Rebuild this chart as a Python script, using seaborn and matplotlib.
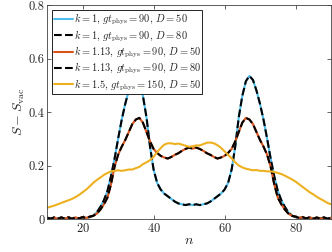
import numpy as np
import matplotlib
matplotlib.use("Agg")
import matplotlib.pyplot as plt
import seaborn as sns

# sitios
n = np.arange(10, 91)

# k = 1, gt = 90, D = 50
k1_d50 = [0.002, 0.002, 0.002, 0.002, 0.002, 0.002, 0.002, 0.002, 0.002, 0.002,
          0.003, 0.004, 0.006, 0.012, 0.025, 0.045, 0.07, 0.105, 0.16, 0.225,
          0.30, 0.37, 0.43, 0.48, 0.52, 0.535, 0.515, 0.46, 0.38, 0.27,
          0.185, 0.135, 0.11, 0.095, 0.085, 0.075, 0.065, 0.058, 0.055, 0.052,
          0.055, 0.052, 0.055, 0.052, 0.055, 0.058, 0.065, 0.075, 0.085, 0.095,
          0.11, 0.135, 0.185, 0.27, 0.38, 0.46, 0.515, 0.535, 0.52, 0.48,
          0.43, 0.37, 0.30, 0.225, 0.16, 0.105, 0.07, 0.045, 0.025, 0.012,
          0.006, 0.004, 0.003, 0.002, 0.002, 0.002, 0.002, 0.002, 0.002, 0.002,
          0.002]

# k = 1, gt = 90, D = 80
k1_d80 = [0.005, 0.0, 0.006, 0.001, 0.006, 0.0, 0.007, 0.001, 0.006, 0.002,
          0.007, 0.003, 0.008, 0.012, 0.025, 0.045, 0.07, 0.105, 0.16, 0.225,
          0.30, 0.37, 0.43, 0.48, 0.52, 0.535, 0.515, 0.46, 0.38, 0.27,
          0.185, 0.135, 0.11, 0.095, 0.085, 0.075, 0.065, 0.058, 0.055, 0.052,
          0.055, 0.052, 0.055, 0.052, 0.055, 0.058, 0.065, 0.075, 0.085, 0.095,
          0.11, 0.135, 0.185, 0.27, 0.38, 0.46, 0.515, 0.535, 0.52, 0.48,
          0.43, 0.37, 0.30, 0.225, 0.16, 0.105, 0.07, 0.045, 0.025, 0.012,
          0.008, 0.003, 0.007, 0.001, 0.006, 0.0, 0.006, 0.001, 0.006, 0.0,
          0.005]

# k = 1.13, gt = 90, D = 50
k113_d50 = [0.004, 0.0, 0.006, 0.0, 0.005, 0.001, 0.006, 0.0, 0.006, 0.002,
            0.007, 0.004, 0.008, 0.012, 0.02, 0.035, 0.055, 0.08, 0.13, 0.195,
            0.24, 0.27, 0.295, 0.325, 0.355, 0.372, 0.378, 0.36, 0.325, 0.29,
            0.262, 0.247, 0.236, 0.23, 0.226, 0.232, 0.24, 0.246, 0.255, 0.262,
            0.267, 0.263, 0.267, 0.262, 0.255, 0.246, 0.24, 0.232, 0.226, 0.23,
            0.236, 0.247, 0.262, 0.29, 0.325, 0.36, 0.378, 0.372, 0.355, 0.325,
            0.295, 0.27, 0.24, 0.195, 0.13, 0.08, 0.055, 0.035, 0.02, 0.012,
            0.008, 0.004, 0.007, 0.002, 0.006, 0.0, 0.006, 0.001, 0.005, 0.0,
            0.004]

# k = 1.13, gt = 90, D = 80
k113_d80 = [0.005, 0.001, 0.006, 0.0, 0.006, 0.001, 0.006, 0.0, 0.007, 0.002,
            0.007, 0.004, 0.009, 0.012, 0.02, 0.035, 0.055, 0.08, 0.13, 0.195,
            0.24, 0.27, 0.295, 0.325, 0.355, 0.372, 0.378, 0.36, 0.325, 0.29,
            0.262, 0.247, 0.236, 0.23, 0.226, 0.232, 0.24, 0.246, 0.255, 0.262,
            0.267, 0.263, 0.267, 0.262, 0.255, 0.246, 0.24, 0.232, 0.226, 0.23,
            0.236, 0.247, 0.262, 0.29, 0.325, 0.36, 0.378, 0.372, 0.355, 0.325,
            0.295, 0.27, 0.24, 0.195, 0.13, 0.08, 0.055, 0.035, 0.02, 0.012,
            0.009, 0.004, 0.007, 0.002, 0.007, 0.0, 0.006, 0.001, 0.006, 0.001,
            0.005]

# k = 1.5, gt = 150, D = 50
k15_d50 = [0.042, 0.046, 0.05, 0.055, 0.06, 0.065, 0.07, 0.075, 0.082, 0.09,
           0.1, 0.11, 0.122, 0.135, 0.146, 0.155, 0.165, 0.172, 0.178, 0.18,
           0.182, 0.18, 0.182, 0.185, 0.185, 0.19, 0.195, 0.205, 0.212, 0.22,
           0.232, 0.25, 0.265, 0.278, 0.283, 0.283, 0.28, 0.282, 0.278, 0.274,
           0.27, 0.272, 0.275, 0.275, 0.28, 0.285, 0.286, 0.283, 0.276, 0.266,
           0.253, 0.24, 0.227, 0.212, 0.2, 0.193, 0.188, 0.185, 0.182, 0.183,
           0.18, 0.18, 0.178, 0.178, 0.176, 0.172, 0.168, 0.162, 0.155, 0.148,
           0.14, 0.13, 0.12, 0.11, 0.1, 0.092, 0.083, 0.075, 0.068, 0.06,
           0.055]

series = [
    (k1_d50, r"$k=1$, $gt_{\rm phys}=90$, $D=50$", "#4DBEEE", "-"),
    (k1_d80, r"$k=1$, $gt_{\rm phys}=90$, $D=80$", "black", "--"),
    (k113_d50, r"$k=1.13$, $gt_{\rm phys}=90$, $D=50$", "#D95319", "-"),
    (k113_d80, r"$k=1.13$, $gt_{\rm phys}=90$, $D=80$", "black", "--"),
    (k15_d50, r"$k=1.5$, $gt_{\rm phys}=150$, $D=50$", "#EDB120", "-"),
]

sns.set_style("ticks")
plt.rcParams["font.family"] = "serif"
plt.rcParams["font.serif"] = ["cmr10"]
plt.rcParams["mathtext.fontset"] = "cm"
plt.rcParams["axes.formatter.use_mathtext"] = True

fig = plt.figure(figsize=(3.32, 2.52), dpi=100)
ax = fig.add_axes([0.142, 0.131, 0.855, 0.849])

for vals, lab, col, ls in series:
    sns.lineplot(x=n, y=vals, color=col, linestyle=ls, linewidth=1.5,
                 label=lab, ax=ax)

ax.set_xlim(10, 90)
ax.set_ylim(0, 0.8)
ax.set_xticks([20, 40, 60, 80])
ax.set_yticks([0, 0.2, 0.4, 0.6, 0.8])
ax.set_yticklabels(["0", "0.2", "0.4", "0.6", "0.8"])
ax.tick_params(direction="in", top=True, right=True, length=3, width=0.5,
               labelsize=9, colors="#262626", pad=2)
for sp in ax.spines.values():
    sp.set_linewidth(0.6)
    sp.set_color("#404040")

ax.set_xlabel(r"$n$", fontsize=10, labelpad=0)
ax.set_ylabel(r"$S - S_{\rm vac}$", fontsize=10, labelpad=1)

leg = ax.legend(loc="upper left", fontsize=7.5, frameon=True, fancybox=False,
                edgecolor="black", framealpha=1, handlelength=1.8,
                handletextpad=0.1, labelspacing=0.1, borderpad=0.15,
                borderaxespad=0.5)
leg.get_frame().set_linewidth(0.6)

fig.savefig("out.png", dpi=100)
